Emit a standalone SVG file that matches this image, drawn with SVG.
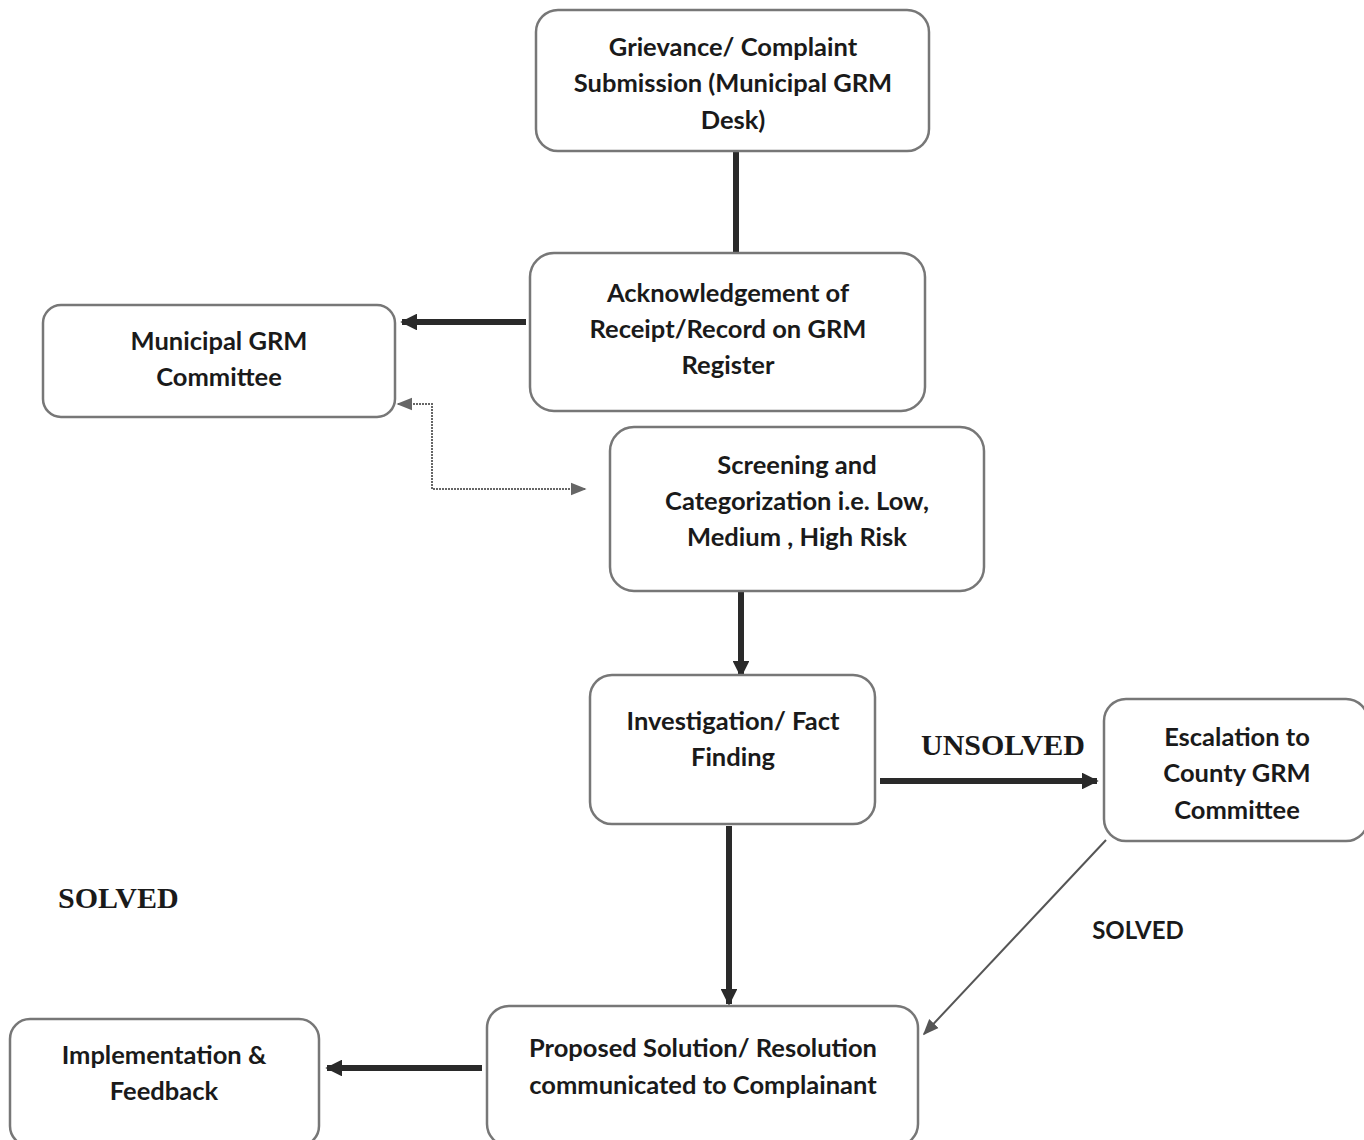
<svg xmlns="http://www.w3.org/2000/svg" width="1364" height="1140" viewBox="0 0 1364 1140">
<style>
.box{fill:#fff;stroke:#777;stroke-width:2.5}
.t{font-family:Lato,"Liberation Sans",sans-serif;font-weight:bold;font-size:25.5px;fill:#1a1a1a;text-anchor:middle}
.s{font-family:"Liberation Serif",serif;font-weight:bold;fill:#1a1a1a}
.thick{stroke:#2a2a2a;stroke-width:6;fill:none}
.thin{stroke:#555;stroke-width:2;fill:none}
.dot{stroke:#666;stroke-width:2;fill:none;stroke-dasharray:2 1}
</style>
<defs>
<marker id="ah" viewBox="0 0 10 10" refX="9" refY="5" markerWidth="2.8" markerHeight="2.8" orient="auto" markerUnits="strokeWidth"><path d="M0,0L10,5L0,10z" fill="#2a2a2a"/></marker>
<marker id="ahs" viewBox="0 0 10 10" refX="9" refY="5" markerWidth="8" markerHeight="8" orient="auto" markerUnits="strokeWidth"><path d="M0,1L10,5L0,9z" fill="#555"/></marker>
<marker id="ahd" viewBox="0 0 10 10" refX="9" refY="5" markerWidth="8" markerHeight="8" orient="auto-start-reverse" markerUnits="strokeWidth"><path d="M0,1L10,5L0,9z" fill="#666"/></marker>
</defs>
<rect width="1364" height="1140" fill="#fff"/>
<g id="connectors">
<line class="thick" x1="736" y1="151" x2="736" y2="254"/>
<line class="thick" x1="526" y1="322" x2="402" y2="322" marker-end="url(#ah)"/>
<polyline class="dot" points="398,404 432,404 432,489 585,489" marker-start="url(#ahd)" marker-end="url(#ahd)"/>
<line class="thick" x1="741" y1="591" x2="741" y2="676" marker-end="url(#ah)"/>
<line class="thick" x1="880" y1="781" x2="1097" y2="781" marker-end="url(#ah)"/>
<line class="thick" x1="729" y1="826" x2="729" y2="1004" marker-end="url(#ah)"/>
<line class="thin" x1="1106" y1="840" x2="924" y2="1034" marker-end="url(#ahs)"/>
<line class="thick" x1="482" y1="1068" x2="327" y2="1068" marker-end="url(#ah)"/>
</g>
<g id="n1"><rect class="box" x="536" y="10" width="393" height="141" rx="22"/>
<text class="t" x="733" y="56">Grievance/ Complaint</text>
<text class="t" x="733" y="92">Submission (Municipal GRM</text>
<text class="t" x="733" y="129">Desk)</text></g>
<g id="n2"><rect class="box" x="530" y="253" width="395" height="158" rx="24"/>
<text class="t" x="728" y="302">Acknowledgement of</text>
<text class="t" x="728" y="338">Receipt/Record on GRM</text>
<text class="t" x="728" y="374">Register</text></g>
<g id="n3"><rect class="box" x="43" y="305" width="352" height="112" rx="18"/>
<text class="t" x="219" y="350">Municipal GRM</text>
<text class="t" x="219" y="386">Committee</text></g>
<g id="n4"><rect class="box" x="610" y="427" width="374" height="164" rx="24"/>
<text class="t" x="797" y="474">Screening and</text>
<text class="t" x="797" y="510">Categorization i.e. Low,</text>
<text class="t" x="797" y="546">Medium , High Risk</text></g>
<g id="n5"><rect class="box" x="590" y="675" width="285" height="149" rx="22"/>
<text class="t" x="733" y="730">Investigation/ Fact</text>
<text class="t" x="733" y="766">Finding</text></g>
<g id="n6"><rect class="box" x="1104" y="699" width="264" height="142" rx="22"/>
<text class="t" x="1237" y="746">Escalation to</text>
<text class="t" x="1237" y="782">County GRM</text>
<text class="t" x="1237" y="819">Committee</text></g>
<g id="n7"><rect class="box" x="487" y="1006" width="431" height="140" rx="22"/>
<text class="t" x="703" y="1057">Proposed Solution/ Resolution</text>
<text class="t" x="703" y="1094">communicated to Complainant</text></g>
<g id="n8"><rect class="box" x="10" y="1019" width="309" height="127" rx="20"/>
<text class="t" x="164" y="1064">Implementation &amp;</text>
<text class="t" x="164" y="1100">Feedback</text></g>
<g id="labels">
<text class="s" x="921" y="755" font-size="30">UNSOLVED</text>
<text class="s" x="58" y="908" font-size="30">SOLVED</text>
<text class="t" x="1138" y="939" style="font-size:24px">SOLVED</text>
</g>
</svg>
